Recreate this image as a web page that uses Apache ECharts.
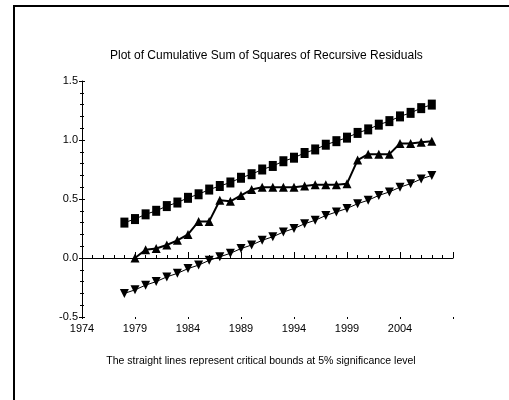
<!DOCTYPE html>
<html><head><meta charset="utf-8">
<script src="https://cdn.jsdelivr.net/npm/echarts@6/dist/echarts.min.js"></script>
<style>html,body{margin:0;padding:0;background:#fff}#c{width:509px;height:400px}</style>
</head><body><div id="c"></div>
<script>
var years = [];
for (var y = 1974; y <= 2009; y++) years.push(String(y));
var boundYears = ['1978','1979','1980','1981','1982','1983','1984','1985','1986','1987','1988','1989','1990','1991','1992','1993','1994','1995','1996','1997','1998','1999','2000','2001','2002','2003','2004','2005','2006','2007'];
var upperBound = [0.30,0.33,0.37,0.40,0.44,0.47,0.51,0.54,0.58,0.61,0.64,0.68,0.71,0.75,0.78,0.82,0.85,0.89,0.92,0.96,0.99,1.02,1.06,1.09,1.13,1.16,1.20,1.23,1.27,1.30];
var lowerBound = [-0.30,-0.27,-0.23,-0.20,-0.16,-0.13,-0.09,-0.06,-0.02,0.01,0.04,0.08,0.11,0.15,0.18,0.22,0.25,0.29,0.32,0.36,0.39,0.42,0.46,0.49,0.53,0.56,0.60,0.63,0.67,0.70];
var cusumYears = boundYears.slice(1);
var cusumSq = [0.00,0.07,0.08,0.11,0.15,0.20,0.31,0.31,0.49,0.48,0.53,0.58,0.60,0.60,0.60,0.60,0.61,0.62,0.62,0.62,0.63,0.83,0.88,0.88,0.88,0.97,0.97,0.98,0.99];
var yTicks = [-0.5, 0.0, 0.5, 1.0, 1.5];

function pairs(xs, vs){ return xs.map(function(x,i){ return [x, vs[i]]; }); }
var FONT = "'Liberation Sans',Arial,sans-serif";
var chart = echarts.init(document.getElementById('c'), null, {renderer:'canvas'});
var baseX = {
  type:'category', data: years, boundaryGap:false, gridIndex:0, position:'bottom',
  axisLine:{show:true, lineStyle:{color:'#000', width:1}},
  splitLine:{show:false}
};
chart.setOption({
  animation:false,
  backgroundColor:'#fff',
  title:{ text:'Plot of Cumulative Sum of Squares of Recursive Residuals', left:105, top:45,
    textStyle:{fontFamily:FONT, fontSize:12, fontWeight:'normal', color:'#000'} },
  graphic:[
    {type:'line', shape:{x1:14, y1:5, x2:14, y2:400}, style:{stroke:'#000', lineWidth:2}},
    {type:'line', shape:{x1:13, y1:6, x2:509, y2:6}, style:{stroke:'#000', lineWidth:2}},
    {type:'text', x:261, y:356, style:{text:'The straight lines represent critical bounds at 5% significance level', font:'10.5px '+FONT, fill:'#000', align:'center'}}
  ],
  grid:{left:82, right:56, top:81, bottom:83, containLabel:false},
  xAxis:[
    Object.assign({}, baseX, {
      axisTick:{show:true, inside:true, length:6, interval:function(i){return i%5===0;}, lineStyle:{color:'#000'}},
      axisLabel:{show:true, interval:function(i,v){return i%5===0 && v!=='2009';}, margin:6, color:'#000', fontFamily:FONT, fontSize:11}
    }),
    Object.assign({}, baseX, {
      axisTick:{show:true, inside:true, length:3, interval:0, lineStyle:{color:'#000'}},
      axisLabel:{show:false}, axisLine:{show:false}
    }),
    Object.assign({}, baseX, {
      axisTick:{show:true, inside:false, length:2, interval:function(i){return i%5===0;}, lineStyle:{color:'#000'}},
      axisLabel:{show:false}, axisLine:{show:false}
    })
  ],
  yAxis:[
    {type:'value', min:yTicks[0], max:yTicks[yTicks.length-1], interval:0.5,
      axisLine:{show:true, lineStyle:{color:'#000'}},
      axisTick:{show:true, inside:false, length:3, lineStyle:{color:'#000'}},
      minorTick:{show:true, splitNumber:5, length:2, lineStyle:{color:'#000'}},
      splitLine:{show:false},
      axisLabel:{color:'#000', fontFamily:FONT, fontSize:11, margin:4, formatter:function(v){return v.toFixed(1);}}
    },
    {type:'value', min:yTicks[0], max:yTicks[yTicks.length-1], interval:0.5, position:'left',
      axisLine:{show:false},
      axisTick:{show:true, inside:true, length:3, lineStyle:{color:'#000'}},
      minorTick:{show:true, splitNumber:5, length:2, lineStyle:{color:'#000'}},
      splitLine:{show:false}, axisLabel:{show:false}
    }
  ],
  series:[
    {type:'line', name:'Upper bound', data:pairs(boundYears, upperBound), symbol:'rect', symbolSize:[8,10], showAllSymbol:true,
      itemStyle:{color:'#000'}, lineStyle:{color:'#000', width:1}, z:3,
      markLine:{silent:true, symbol:'none', label:{show:false}, lineStyle:{color:'#000', type:[2,2], width:1, opacity:1},
        data:[{yAxis:0}]}},
    {type:'line', name:'CUSUMSQ', data:pairs(cusumYears, cusumSq), symbol:'triangle', symbolSize:[9,9], showAllSymbol:true,
      itemStyle:{color:'#000'}, lineStyle:{color:'#000', width:2}, z:4},
    {type:'line', name:'Lower bound', data:pairs(boundYears, lowerBound), symbol:'triangle', symbolRotate:180, symbolSize:[9,9], showAllSymbol:true,
      itemStyle:{color:'#000'}, lineStyle:{color:'#000', width:1}, z:3}
  ]
});
</script></body></html>
